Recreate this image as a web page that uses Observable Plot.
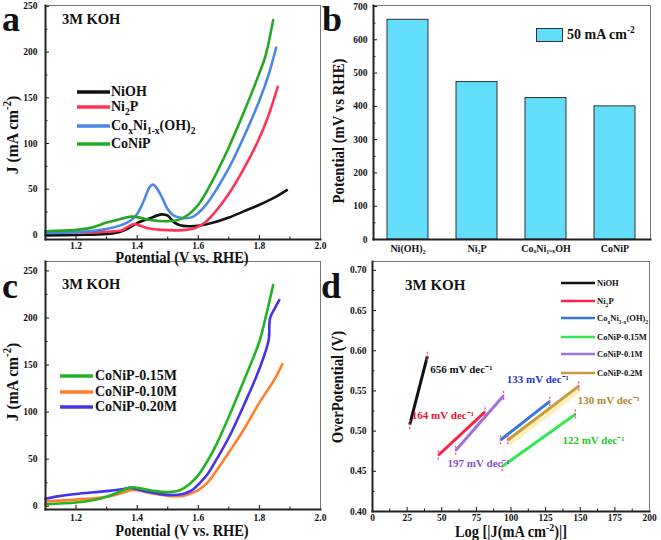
<!DOCTYPE html>
<html><head><meta charset="utf-8">
<script src="https://cdn.jsdelivr.net/npm/d3@7"></script>
<script src="https://cdn.jsdelivr.net/npm/@observablehq/plot@0.6"></script>
<style>
body{margin:0;background:#fff;}
#fig{position:relative;width:661px;height:540px;overflow:hidden;background:#fff;font-family:"Liberation Serif","Times New Roman",serif;font-weight:bold;color:#111;}
.panel{position:absolute;}
.t{position:absolute;white-space:nowrap;line-height:1;}
.rot{transform:translate(-50%,-50%) rotate(-90deg) scaleX(0.92);}
.ctr{transform:translate(-50%,0) scaleX(0.9);}
sub,sup{font-size:68%;line-height:0;}
.leg{position:absolute;display:flex;align-items:center;white-space:nowrap;line-height:1;}
</style></head>
<body><div id="fig"></div>
<script>
// ---------- Panel a : LSV curves [potential V, J mA cm-2] ----------
const aNiOH = [[1.10,-0.5],[1.20,0],[1.30,1],[1.34,3],[1.37,7],[1.40,13],[1.44,18],[1.48,22.5],[1.50,21],[1.52,14],[1.54,10.5],[1.57,9.5],[1.60,10],[1.65,13.5],[1.70,19],[1.75,26],[1.80,33],[1.85,41],[1.89,49]];
const aNi2P = [[1.10,3],[1.20,3],[1.30,3.5],[1.35,5],[1.37,9],[1.39,12],[1.41,10],[1.44,7],[1.48,5.5],[1.52,5],[1.56,5.5],[1.59,7.5],[1.62,13],[1.65,23],[1.70,45],[1.75,73],[1.80,106],[1.83,131],[1.86,162]];
const aCoNiOH = [[1.10,2],[1.20,3],[1.30,6.5],[1.35,11],[1.38,16],[1.40,23],[1.42,36],[1.44,52],[1.45,55],[1.46,53],[1.48,42],[1.50,28],[1.52,21],[1.55,18.5],[1.58,19.5],[1.60,24],[1.63,35],[1.66,50],[1.70,73],[1.75,108],[1.80,147],[1.83,175],[1.855,205]];
const aCoNiP = [[1.10,4],[1.20,5.5],[1.25,8],[1.30,13.5],[1.34,17],[1.38,20],[1.40,19.5],[1.45,16],[1.50,15],[1.54,17],[1.57,23],[1.60,33],[1.63,49],[1.66,68],[1.70,96],[1.75,135],[1.80,177],[1.82,196],[1.845,235]];
const aColors = ["#111111","#ff3355","#4a86e8","#22a822"];
const aNames = ["NiOH","Ni<sub>2</sub>P","Co<sub>x</sub>Ni<sub>1-x</sub>(OH)<sub>2</sub>","CoNiP"];
const aXTicks = [1.2,1.4,1.6,1.8,2.0];
const aXMinor = [1.1,1.3,1.5,1.7,1.9];
const aYTicks = [0,50,100,150,200,250];
const aYMinor = [25,75,125,175,225];

// ---------- Panel b : potential at 50 mA cm-2 ----------
const bCats = ["Ni(OH)2","Ni2P","CoxNi1-xOH","CoNiP"];
const bLabels = ["Ni(OH)₂","Ni₂P","CoₓNi₁₋ₓOH","CoNiP"];
const bValues = [660,473,425,400];
const bYTicks = [0,100,200,300,400,500,600,700];
const bYMinor = [50,150,250,350,450,550,650];

// ---------- Panel c : CoNiP concentrations ----------
const c015 = [[1.10,2],[1.20,4],[1.25,6],[1.30,10],[1.34,15],[1.38,20],[1.40,19.5],[1.45,16.5],[1.50,15],[1.54,17],[1.57,23],[1.60,33],[1.63,48],[1.66,66],[1.70,95],[1.75,134],[1.80,175],[1.82,200],[1.845,235]];
const c010 = [[1.10,5],[1.20,7],[1.30,10],[1.35,14],[1.38,17],[1.40,17],[1.45,13.5],[1.50,11],[1.55,11],[1.58,14],[1.60,17],[1.63,25],[1.66,38],[1.70,57],[1.75,82],[1.80,110],[1.85,135],[1.875,151]];
const c020 = [[1.10,8],[1.15,11],[1.20,13],[1.30,16],[1.35,18],[1.38,19.5],[1.40,18],[1.45,14.5],[1.50,12],[1.55,13],[1.58,17],[1.60,23],[1.63,34],[1.66,50],[1.70,73],[1.75,108],[1.80,146],[1.83,176],[1.835,200],[1.85,210],[1.865,219]];
const cColors = ["#22b422","#ff7f2a","#4433ee"];
const cNames = ["CoNiP-0.15M","CoNiP-0.10M","CoNiP-0.20M"];
const cYTicks = [0,50,100,150,200,250];
const cYMinor = [25,75,125,175,225];

// ---------- Panel d : Tafel fits ----------
const dNames = ["NiOH","Ni<sub>2</sub>P","Co<sub>x</sub>Ni<sub>1-x</sub>(OH)<sub>2</sub>","CoNiP-0.15M","CoNiP-0.1M","CoNiP-0.2M"];
const dColors = ["#111111","#ff2244","#3377dd","#33e855","#a070e0","#c89a40"];
const dX0 = [26.9,47.5,92.4,93.6,60.0,97.7];
const dY0 = [0.508,0.470,0.489,0.456,0.476,0.489];
const dX1 = [39.6,81.2,128.0,146.5,94.6,148.9];
const dY1 = [0.593,0.524,0.537,0.521,0.544,0.556];
const dSlopes = ["656 mV dec⁻¹","164 mV dec⁻¹","133 mV dec⁻¹","122 mV dec⁻¹","197 mV dec⁻¹","130 mV dec⁻¹"];
const dSlopeColors = ["#111111","#ee1133","#2233dd","#22c822","#8a4fd0","#b3862d"];
const dXTicks = [0,25,50,75,100,125,150,175,200];
const dXMinor = [12.5,37.5,62.5,87.5,112.5,137.5,162.5,187.5];
const dYTicks = [0.40,0.45,0.50,0.55,0.60,0.65,0.70];
const dYMinor = [0.425,0.475,0.525,0.575,0.625,0.675];

const FONT = '"Liberation Serif","Times New Roman",serif';
const baseStyle = {fontFamily: FONT, fontWeight: "bold", fontSize: "9.5px", background: "transparent", overflow: "visible", color: "#111"};

function frames() {
  return [
    Plot.frame({stroke: "#777", strokeWidth: 1}),
    Plot.frame({anchor: "left", stroke: "#222", strokeWidth: 2}),
    Plot.frame({anchor: "bottom", stroke: "#222", strokeWidth: 2})
  ];
}
function yAxes(major, minor, fmt, pad) {
  return [
    Plot.axisY(major, {tickSize: -4, tickPadding: pad + 4, tickFormat: fmt, label: null}),
    Plot.axisY(minor, {tickSize: -2.5, fill: "none", label: null})
  ];
}
function xAxes(major, minor, fmt, pad) {
  return [
    Plot.axisX(major, {tickSize: -4, tickPadding: pad + 4, tickFormat: fmt, label: null}),
    Plot.axisX(minor, {tickSize: -2.5, fill: "none", label: null})
  ];
}
function curve(data, color) {
  return Plot.line(data, {x: d => d[0], y: d => d[1], stroke: color, strokeWidth: 2.6, curve: "catmull-rom"});
}
const fig = document.getElementById("fig");
function place(el, left, top) {
  const div = document.createElement("div");
  div.className = "panel"; div.style.left = left + "px"; div.style.top = top + "px";
  div.appendChild(el); fig.appendChild(div);
}
function text(html, left, top, size, cls = "", color = "#111") {
  const d = document.createElement("div");
  d.className = "t " + cls; d.innerHTML = html;
  d.style.left = left + "px"; d.style.top = top + "px"; d.style.fontSize = size + "px"; d.style.color = color;
  fig.appendChild(d);
}
function legendRow(html, color, left, cy, lineW, size, sw, gap) {
  const d = document.createElement("div");
  d.className = "leg";
  d.style.left = left + "px"; d.style.top = (cy - size * 0.6) + "px"; d.style.height = (size * 1.2) + "px"; d.style.fontSize = size + "px";
  d.innerHTML = `<svg width="${lineW}" height="8" style="margin-right:${gap}px"><line x1="0" x2="${lineW}" y1="4" y2="4" stroke="${color}" stroke-width="${sw}"/></svg><span>${html}</span>`;
  fig.appendChild(d);
}

// ---- a ----
const f1 = d3.format(".1f");
place(Plot.plot({
  width: 330, height: 270, marginLeft: 45, marginRight: 10, marginTop: 5, marginBottom: 31,
  x: {domain: [1.1, 2.0]}, y: {domain: [-5, 251]},
  style: baseStyle,
  marks: [
    curve(aNiOH, aColors[0]), curve(aNi2P, aColors[1]), curve(aCoNiOH, aColors[2]), curve(aCoNiP, aColors[3]),
    ...xAxes(aXTicks, aXMinor, f1, 3), ...yAxes(aYTicks, aYMinor, d3.format("d"), 8), ...frames()
  ]
}), 0, 0);

// ---- b ----
const bTable = bCats.map((c, i) => ({cat: c, val: bValues[i]}));
place(Plot.plot({
  width: 331, height: 270, marginLeft: 43, marginRight: 11, marginTop: 5, marginBottom: 31,
  x: {domain: bCats, paddingInner: 0.4, paddingOuter: 0.2}, y: {domain: [0, 703]},
  style: baseStyle,
  marks: [
    Plot.barY(bTable, {x: "cat", y: "val", fill: "#62ddfb", stroke: "#333", strokeWidth: 1}),
    Plot.axisX({tickSize: 0, tickPadding: 5, tickFormat: d => bLabels[bCats.indexOf(d)], label: null, fontSize: 10}),
    ...yAxes(bYTicks, bYMinor, d3.format("d"), 6), ...frames()
  ]
}), 330, 0);

// ---- c ----
place(Plot.plot({
  width: 330, height: 290, marginLeft: 45, marginRight: 10, marginTop: 11, marginBottom: 31,
  x: {domain: [1.1, 2.0]}, y: {domain: [-3.5, 260]},
  style: baseStyle,
  marks: [
    curve(c010, cColors[1]), curve(c020, cColors[2]), curve(c015, cColors[0]),
    ...xAxes(aXTicks, aXMinor, f1, 5), ...yAxes(cYTicks, cYMinor, d3.format("d"), 8), ...frames()
  ]
}), 0, 250);

// ---- d ----
const dTable = dX0.map((x, i) => ({x0: x, y0: dY0[i], x1: dX1[i], y1: dY1[i], c: dColors[i]}));
const dEnds = dTable.flatMap(r => [{x: r.x0, y: r.y0}, {x: r.x1, y: r.y1}]);
// label placement: [row, use end(1)/start(0), textAnchor, dx, dy]
const dLab = [[0,1,"start",3,13],[1,1,"end",-11,4],[2,1,"start",-43,-22],[3,1,"start",-13,26],[4,0,"start",-8,13],[5,1,"start",-1,14]];
const dTextMarks = dLab.map(([i, e, anchor, dx, dy]) => Plot.text([dTable[i]], {
  x: r => e ? r.x1 : r.x0, y: r => e ? r.y1 : r.y0, text: () => dSlopes[i], fill: dSlopeColors[i],
  textAnchor: anchor, dx, dy, fontSize: 11, fontWeight: "bold"
}));
place(Plot.plot({
  width: 331, height: 290, marginLeft: 42, marginRight: 12, marginTop: 11, marginBottom: 29,
  x: {domain: [0, 200]}, y: {domain: [0.40, 0.711]},
  style: baseStyle,
  marks: [
    Plot.link([dTable[5]], {x1: "x0", y1: "y0", x2: "x1", y2: "y1", stroke: "#fbefb8", strokeWidth: 7, dy: 3}),
    Plot.link(dTable, {x1: "x0", y1: "y0", x2: "x1", y2: "y1", stroke: "c", strokeWidth: 3}),
    Plot.ruleX(dEnds, {x: "x", y1: d => d.y - 0.006, y2: d => d.y + 0.006, stroke: "#f0509a", strokeWidth: 1.4, strokeDasharray: "2,1.5"}),
    ...dTextMarks,
    ...xAxes(dXTicks, dXMinor, d3.format("d"), 3), ...yAxes(dYTicks, dYMinor, d3.format(".2f"), 6), ...frames()
  ]
}), 330, 250);

// ---- overlays: panel letters, labels, legends ----
text("a", 2, 1, 36); text("b", 322, 1, 36); text("c", 2, 268, 36); text("d", 321, 268, 36);
text("3M KOH", 62, 12, 14.5); text("3M KOH", 62, 277, 14.5); text("3M KOH", 405, 278, 15);
text("Potential (V vs. RHE)", 182, 250, 16, "ctr");
text("Potential (V vs. RHE)", 182, 523, 16, "ctr");
text("Log [|J(mA cm<sup>-2</sup>)|]", 511, 524, 16, "ctr");
text("J (mA cm<sup>-2</sup>)", 12, 135, 17, "rot");
text("J (mA cm<sup>-2</sup>)", 12, 382, 17, "rot");
text("Potential (mV vs RHE)", 339, 131, 16, "rot");
text("OverPotential (V)", 338, 387, 16, "rot");

const aRows = [92, 107, 126, 144];
aNames.forEach((n, i) => legendRow(n, aColors[i], 77, aRows[i], 33, 14, 3.5, 1));
const cRows = [376, 392, 407];
cNames.forEach((n, i) => legendRow(n, cColors[i], 60, cRows[i], 33, 14, 3.5, 2));
const dRows = [283, 301, 318, 337, 354, 373];
dNames.forEach((n, i) => legendRow(n, dColors[i], 561, dRows[i], 34, 8.5, 2.5, 2));

// panel b legend
const bl = document.createElement("div");
bl.className = "leg"; bl.style.left = "536px"; bl.style.top = "27px"; bl.style.height = "16px"; bl.style.fontSize = "14px";
bl.innerHTML = `<svg width="27" height="16" style="margin-right:4px"><rect x="0.5" y="1.5" width="26" height="13" fill="#62ddfb" stroke="#333"/></svg><span>50 mA cm<sup>-2</sup></span>`;
fig.appendChild(bl);
</script></body></html>
